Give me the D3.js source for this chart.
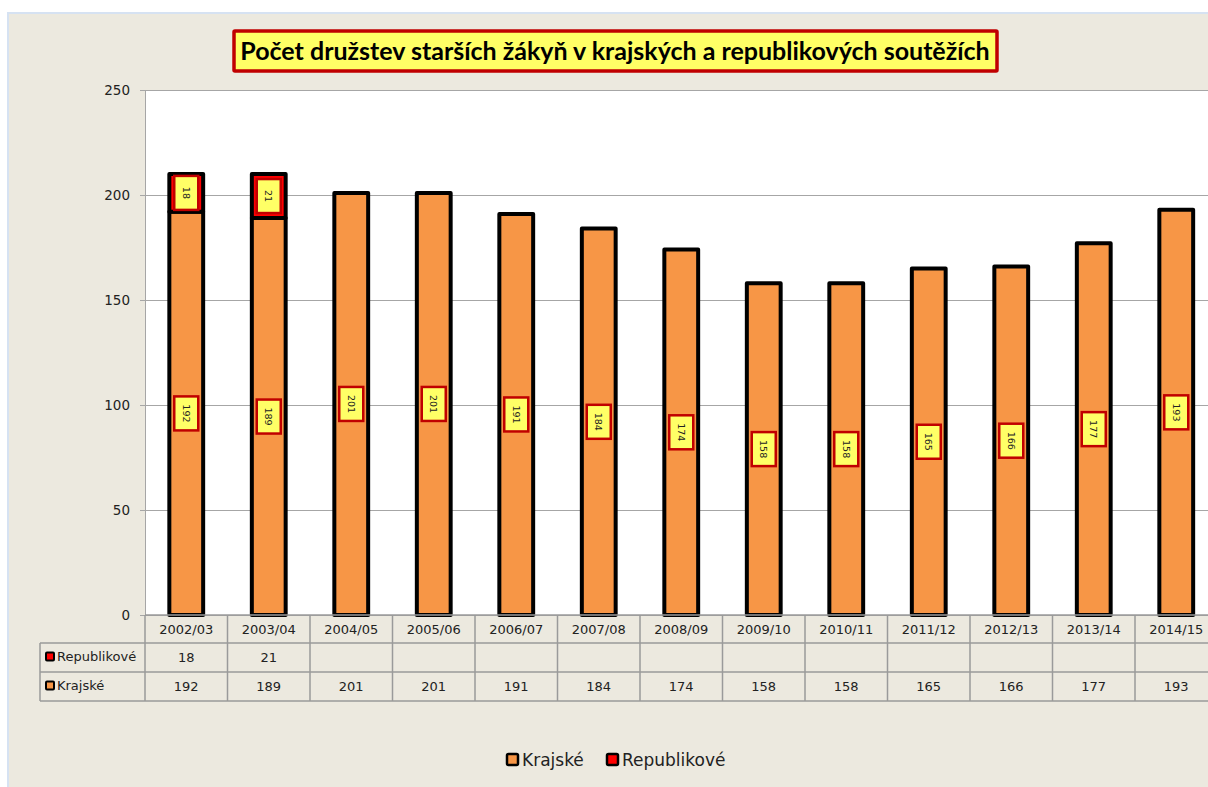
<html>
<head>
    <meta charset="utf-8">
    <script src="https://d3js.org/d3.v7.min.js"></script>
    <style>
        body { margin: 0; background: #fff; }
        svg text { font-family: "DejaVu Sans", Verdana, sans-serif; fill: #222; }
        .title { font-family: Lato, "Open Sans", sans-serif; font-weight: bold; font-size: 25px; fill: #000; }
    </style>
</head>
<body>
<div id="chart"></div>
<script>
    var categories = ["2002/03", "2003/04", "2004/05", "2005/06", "2006/07", "2007/08", "2008/09",
        "2009/10", "2010/11", "2011/12", "2012/13", "2013/14", "2014/15"];
    var krajske = [192, 189, 201, 201, 191, 184, 174, 158, 158, 165, 166, 177, 193];
    var republikove = [18, 21, null, null, null, null, null, null, null, null, null, null, null];
    var yTicks = [0, 50, 100, 150, 200, 250];

    var seriesNames = ["Krajské", "Republikové"];
    var seriesColors = {"Krajské": "#F79646", "Republikové": "#FF0000"};

    var width = 1208, height = 787;
    var plotLeft = 145, plotTop = 90, plotBottom = 615;
    var step = 82.5;

    var rows = categories.map(function(c, i) {
        return {cat: c, "Krajské": krajske[i], "Republikové": republikove[i] || 0};
    });

    var svg = d3.select("#chart").append("svg")
        .attr("width", width).attr("height", height);

    // chart area background
    svg.append("rect").attr("x", 8).attr("y", 13).attr("width", width).attr("height", height)
        .attr("fill", "#ECE9DF").attr("stroke", "#D6E2F2").attr("stroke-width", 2);

    var x = d3.scaleBand().domain(categories)
        .range([plotLeft, plotLeft + step * categories.length])
        .paddingInner(0.59).paddingOuter(0.295);
    var y = d3.scaleLinear().domain([0, 250]).range([plotBottom, plotTop]);

    // plot area
    svg.append("rect").attr("x", plotLeft).attr("y", plotTop)
        .attr("width", step * categories.length).attr("height", plotBottom - plotTop)
        .attr("fill", "#fff");

    // gridlines
    svg.append("g").selectAll("line").data(yTicks).enter().append("line")
        .attr("x1", plotLeft - 5).attr("x2", plotLeft + step * categories.length)
        .attr("y1", function(d) { return y(d) + 0.5; })
        .attr("y2", function(d) { return y(d) + 0.5; })
        .attr("stroke", "#A6A6A6").attr("stroke-width", 1);

    var yAxis = svg.append("g").attr("transform", "translate(" + plotLeft + ",0)")
        .call(d3.axisLeft(y).tickValues(yTicks).tickSize(5).tickPadding(10));
    yAxis.select(".domain").attr("stroke", "#A6A6A6");
    yAxis.selectAll(".tick line").attr("stroke", "#A6A6A6");
    yAxis.selectAll("text").style("font-size", "13.5px").attr("fill", "#222");

    // bars
    var stack = d3.stack().keys(seriesNames);
    var stacked = stack(rows);

    var layers = svg.append("g").selectAll("g").data(stacked).enter().append("g")
        .attr("fill", function(d) { return seriesColors[d.key]; });

    layers.selectAll("rect").data(function(d) { return d.filter(function(p) { return p[1] > p[0]; }); })
        .enter().append("rect")
        .attr("x", function(d) { return x(d.data.cat); })
        .attr("width", x.bandwidth())
        .attr("y", function(d) { return y(d[1]); })
        .attr("height", function(d) { return y(d[0]) - y(d[1]); })
        .attr("stroke", "#000").attr("stroke-width", 4).attr("stroke-linejoin", "round");

    // data labels
    var labels = [];
    stacked.forEach(function(layer) {
        layer.forEach(function(p) {
            if (p[1] > p[0]) labels.push({cat: p.data.cat, value: p[1] - p[0], mid: (p[0] + p[1]) / 2});
        });
    });

    var lab = svg.append("g").selectAll("g").data(labels).enter().append("g")
        .attr("transform", function(d) {
            return "translate(" + (x(d.cat) + x.bandwidth() / 2) + "," + y(d.mid) + ")";
        });
    lab.append("rect").attr("x", -12).attr("y", -17).attr("width", 24).attr("height", 34)
        .attr("fill", "#FFFF66").attr("stroke", "#C00000").attr("stroke-width", 2.5);
    lab.append("text").attr("transform", "rotate(90)")
        .attr("text-anchor", "middle").attr("dy", "0.35em")
        .style("font-size", "9.5px").attr("fill", "#111")
        .text(function(d) { return d.value; });

    // data table
    var tableLeft = 40, rowH = [615, 643, 672, 701];
    var tableRight = plotLeft + step * categories.length;
    var tbl = svg.append("g").attr("stroke", "#9A9A9A").attr("stroke-width", 1.5);
    tbl.append("line").attr("x1", plotLeft).attr("x2", tableRight).attr("y1", rowH[0]).attr("y2", rowH[0]);
    [1, 2, 3].forEach(function(r) {
        tbl.append("line").attr("x1", tableLeft).attr("x2", tableRight).attr("y1", rowH[r]).attr("y2", rowH[r]);
    });
    tbl.append("line").attr("x1", tableLeft).attr("x2", tableLeft).attr("y1", rowH[1]).attr("y2", rowH[3]);
    d3.range(categories.length + 1).forEach(function(i) {
        var xx = plotLeft + i * step;
        tbl.append("line").attr("x1", xx).attr("x2", xx).attr("y1", rowH[0]).attr("y2", rowH[3]);
    });

    var cellMid = function(c) { return x(c) + x.bandwidth() / 2; };
    svg.append("g").selectAll("text").data(categories).enter().append("text")
        .attr("x", cellMid).attr("y", (rowH[0] + rowH[1]) / 2).attr("dy", "0.35em")
        .attr("text-anchor", "middle").style("font-size", "13px").text(function(d) { return d; });

    var tableRows = [
        {name: "Republikové", values: republikove, y: (rowH[1] + rowH[2]) / 2},
        {name: "Krajské", values: krajske, y: (rowH[2] + rowH[3]) / 2}
    ];
    tableRows.forEach(function(r) {
        svg.append("rect").attr("x", 46).attr("y", r.y - 5).attr("width", 8).attr("height", 8)
            .attr("fill", seriesColors[r.name]).attr("stroke", "#000").attr("stroke-width", 2).attr("rx", 1);
        svg.append("text").attr("x", 57).attr("y", r.y - 1).attr("dy", "0.35em")
            .style("font-size", "13px").text(r.name);
        svg.append("g").selectAll("text").data(r.values.map(function(v, i) { return {v: v, c: categories[i]}; }))
            .enter().append("text")
            .attr("x", function(d) { return cellMid(d.c); }).attr("y", r.y).attr("dy", "0.35em")
            .attr("text-anchor", "middle").style("font-size", "13px")
            .text(function(d) { return d.v == null ? "" : d.v; });
    });

    // legend
    var legendItems = [{name: "Krajské", x: 507}, {name: "Republikové", x: 607}];
    var lg = svg.append("g").selectAll("g").data(legendItems).enter().append("g")
        .attr("transform", function(d) { return "translate(" + d.x + ",760)"; });
    lg.append("rect").attr("x", 0).attr("y", -6).attr("width", 11).attr("height", 11)
        .attr("fill", function(d) { return seriesColors[d.name]; })
        .attr("stroke", "#000").attr("stroke-width", 2.5).attr("rx", 1.5);
    lg.append("text").attr("x", 15).attr("dy", "0.35em").style("font-size", "17px").attr("fill", "#111")
        .text(function(d) { return d.name; });

    // title
    svg.append("rect").attr("x", 234).attr("y", 31).attr("width", 763).attr("height", 40)
        .attr("fill", "#FFFF66").attr("stroke", "#C00000").attr("stroke-width", 3.5).attr("rx", 1);
    svg.append("text").attr("class", "title").attr("x", 615).attr("y", 51).attr("dy", "0.35em")
        .attr("text-anchor", "middle").text("Počet družstev starších žákyň v krajských a republikových soutěžích");
</script>
</body>
</html>
